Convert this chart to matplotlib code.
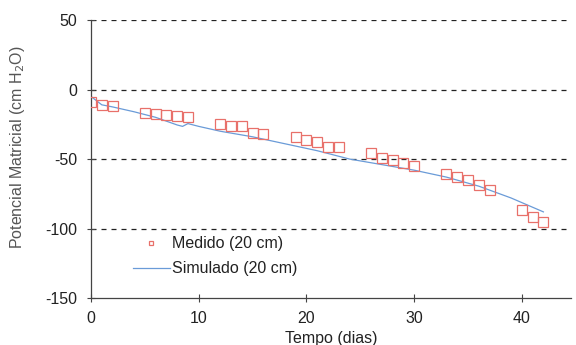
import matplotlib
matplotlib.use("Agg")
import matplotlib.pyplot as plt

plt.rcParams['font.family'] = ['Liberation Sans', 'DejaVu Sans']
plt.rcParams['axes.unicode_minus'] = False

# Measured matric potential at 20 cm depth
medido_dias = [0, 1, 2, 5, 6, 7, 8, 9, 12, 13, 14, 15, 16, 19, 20, 21, 22, 23,
               26, 27, 28, 29, 30, 33, 34, 35, 36, 37, 40, 41, 42]
medido_pot = [-9, -11, -12, -17, -17.5, -18, -19, -20, -25, -26, -26.5, -31, -32,
              -34, -36, -38, -41, -41, -46, -49, -51, -53, -55, -61, -63, -65,
              -69, -72, -87, -92, -95]

# Simulated matric potential at 20 cm depth
sim_dias = [0, 1, 2, 4, 6, 8, 8.5, 9, 10, 12, 15, 18, 21, 24, 27, 30, 33, 36, 39, 42]
sim_pot = [-5, -11, -12.5, -16, -20, -25.5, -26.5, -24.5, -26.5, -30, -34, -39,
           -44, -50, -54, -58, -63, -69.5, -78, -88]

xticks = [0, 10, 20, 30, 40]
yticks = [-150, -100, -50, 0, 50]

fig = plt.figure(figsize=(5.76, 3.45), dpi=100)
ax = fig.add_axes([0.158, 0.136, 0.834, 0.806])

ax.plot(sim_dias, sim_pot, color='#6a9bd8', lw=0.9, label='Simulado (20 cm)', zorder=2)
ax.plot(medido_dias, medido_pot, linestyle='none', marker='s', ms=6.5, mfc='none',
        mec='#e8706a', mew=0.9, label='Medido (20 cm)', zorder=3)

ax.set_xlim(0, 44.6)
ax.set_ylim(-150, 50)
ax.set_xticks(xticks)
ax.set_yticks(yticks)

for yv in [50, 0, -50, -100]:
    ax.axhline(yv, color='#222222', lw=0.9, ls=(0, (4, 4)), zorder=1)

for side in ['top', 'right']:
    ax.spines[side].set_visible(False)
for side in ['left', 'bottom']:
    ax.spines[side].set_color('#444444')
    ax.spines[side].set_linewidth(0.9)

ax.tick_params(axis='both', direction='inout', length=6, width=0.8, color='#444444',
               labelsize=11.5, labelcolor='#222222')
ax.tick_params(axis='x', pad=6)
ax.tick_params(axis='y', pad=7)

ax.set_xlabel('Tempo (dias)', fontsize=11.5, color='#222222')
ax.xaxis.set_label_coords(0.5, -0.12)
ax.set_ylabel('Potencial Matricial (cm H$_2$O)', fontsize=11.5, color='#555555')
ax.yaxis.set_label_coords(-0.133, 0.541)

handles, labels = ax.get_legend_handles_labels()
leg = ax.legend(handles[::-1], labels[::-1], loc='upper left', bbox_to_anchor=(0.0875, 0.222),
                borderaxespad=0, borderpad=0, frameon=False, fontsize=11.5,
                handlelength=2.3, handletextpad=0.15, labelspacing=0.62, markerscale=0.55)
for t in leg.get_texts():
    t.set_color('#222222')

fig.savefig('out.png', dpi=100)
